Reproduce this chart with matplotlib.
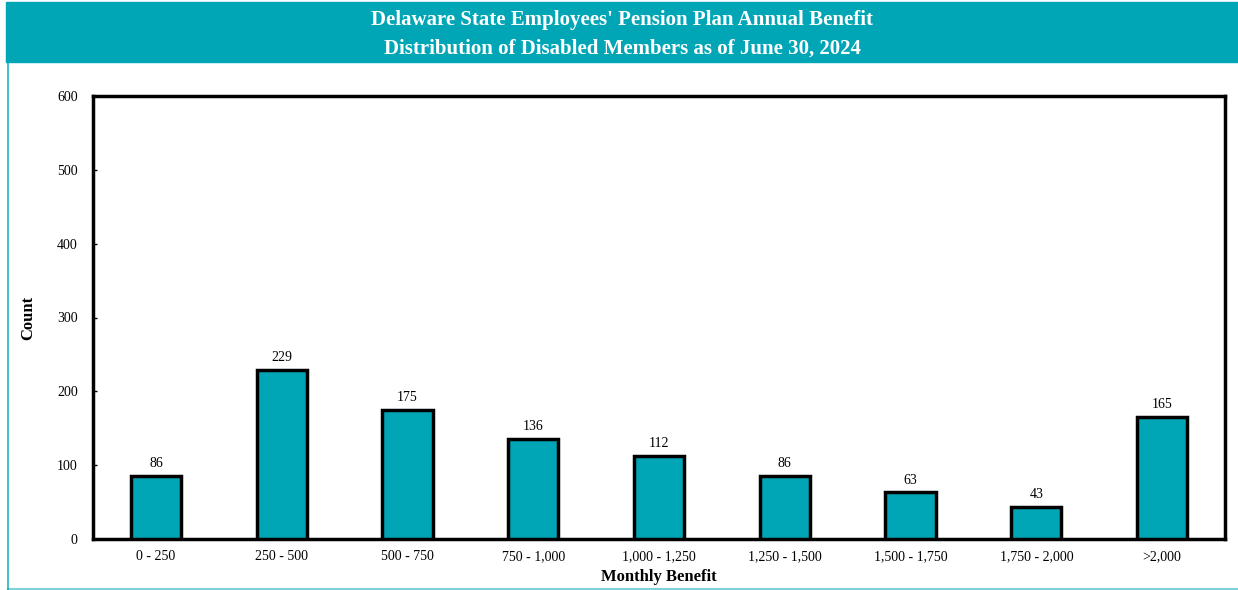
"""Delaware SEPP annual benefit distribution of disabled members (bar chart)."""

import matplotlib
matplotlib.use("Agg")
import matplotlib.pyplot as plt
import matplotlib.patches as mpatches
import numpy as np

# ─── Data ────────────────────────────────────────────────────────────────────
categories = ["0 - 250", "250 - 500", "500 - 750", "750 - 1,000", "1,000 - 1,250",
              "1,250 - 1,500", "1,500 - 1,750", "1,750 - 2,000", ">2,000"]
counts = [86, 229, 175, 136, 112, 86, 63, 43, 165]
y_ticks = [0, 100, 200, 300, 400, 500, 600]

TEAL = "#00A6B6"

plt.rcParams["font.family"] = ["Liberation Serif", "DejaVu Serif"]

W, H = 1238, 590
fig = plt.figure(figsize=(W / 100, H / 100), dpi=100)

# Title banner + teal frame
fig.patches.append(mpatches.Rectangle((6 / W, 1 - 62 / H), 1 - 6 / W, 60 / H,
                                      transform=fig.transFigure, color=TEAL, zorder=0))
fig.lines.append(plt.Line2D([7.5 / W, 7.5 / W], [1 - 62 / H, 1 - 588.5 / H],
                            transform=fig.transFigure, color=TEAL, lw=1.5, alpha=0.7))
fig.lines.append(plt.Line2D([7.5 / W, 1], [1 - 588.5 / H, 1 - 588.5 / H],
                            transform=fig.transFigure, color=TEAL, lw=1.5, alpha=0.5))
fig.text(0.5 + 3 / W, 1 - 20 / H, "Delaware State Employees' Pension Plan Annual Benefit",
         ha="center", va="center", color="white", fontsize=15, fontweight="bold")
fig.text(0.5 + 3 / W, 1 - 49 / H, "Distribution of Disabled Members as of June 30, 2024",
         ha="center", va="center", color="white", fontsize=15, fontweight="bold")

# ─── Axes ────────────────────────────────────────────────────────────────────
ax = fig.add_axes([93 / W, 1 - 539 / H, (1225 - 93) / W, (539 - 96) / H])
x = np.arange(len(categories))
bars = ax.bar(x, counts, width=0.4, color=TEAL, edgecolor="black", linewidth=2.5, zorder=3)

for xi, c in zip(x, counts):
    ax.text(xi, c + 8, str(c), ha="center", va="bottom", fontsize=10)

ax.set_xlim(-0.5, len(categories) - 0.5)
ax.set_ylim(0, 600)
ax.set_yticks(y_ticks)
ax.set_xticks(x)
ax.set_xticklabels(categories, fontsize=10)
ax.tick_params(axis="y", labelsize=10, length=3, width=1, direction="in", pad=11)
ax.tick_params(axis="x", length=0, pad=8)
for s in ax.spines.values():
    s.set_linewidth(2.5)

ax.set_xlabel("Monthly Benefit", fontsize=12, fontweight="bold", labelpad=4)
ax.set_ylabel("Count", fontsize=12, fontweight="bold", labelpad=15)

fig.savefig("out.png", dpi=100)
